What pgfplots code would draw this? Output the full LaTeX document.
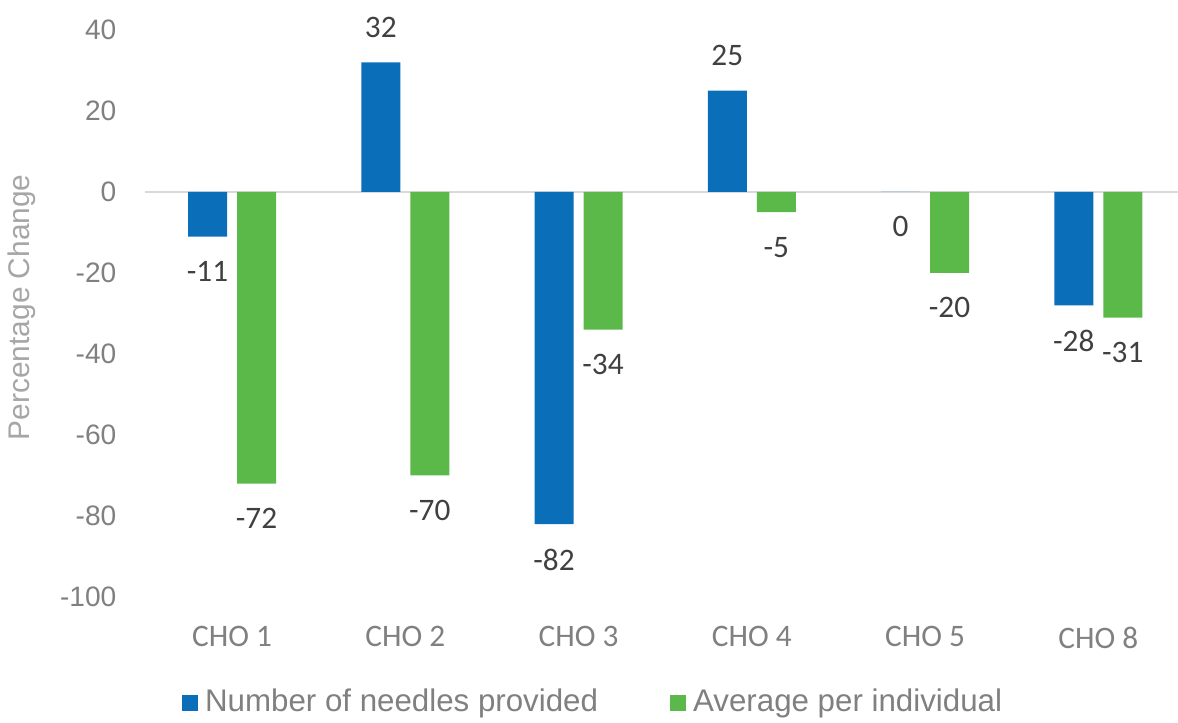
\documentclass[border=0pt]{standalone}
\usepackage{pgfplots}
\pgfplotsset{compat=1.18}
\usepackage{fontspec}
\setmainfont{Liberation Sans}
\newfontfamily\calibri{Carlito}
\definecolor{barblue}{RGB}{11,110,184}
\definecolor{bargreen}{RGB}{91,185,74}
\definecolor{tickgray}{RGB}{128,128,128}
\definecolor{labelgray}{RGB}{166,166,166}
\definecolor{valgray}{RGB}{64,64,64}
\definecolor{zerogray}{RGB}{217,217,217}

\begin{document}
\begin{tikzpicture}
% 1 px of the reference = 0.1 mm
\useasboundingbox (-14.54mm,-12.6mm) rectangle (103.26mm,59.7mm);
\begin{axis}[
  at={(0,0)}, anchor=south west,
  scale only axis,
  width=103.26mm, height=56.7mm,
  ybar=1mm, bar width=3.9mm,
  xmin=-0.5, xmax=5.46,
  ymin=-100, ymax=40,
  xtick={0,1,2,3,4,5},
  xticklabels={CHO 1,CHO 2,CHO 3,CHO 4,CHO 5,CHO 8},
  ytick={-100,-80,-60,-40,-20,0,20,40},
  yticklabels={-100,-80,-60,-40,-20,0,20,40},
  axis line style={draw=none},
  major tick length=0pt,
  clip=false,
  /pgf/number format/assume math mode=true,
  xticklabel style={anchor=north, inner sep=0pt, yshift=-2.9mm,
    font=\calibri\fontsize{8.9}{10.5}\selectfont, text=tickgray},
  yticklabel style={anchor=east, inner sep=0pt, xshift=-2.84mm,
    font=\fontsize{8}{9.6}\selectfont, text=tickgray},
  ylabel={Percentage Change},
  ylabel style={at={(axis description cs:-0.1195,0.511)}, anchor=center,
    font=\fontsize{8.5}{10}\selectfont, text=labelgray},
  extra y ticks={0},
  extra y tick labels={},
  extra y tick style={grid=major, major grid style={draw=zerogray, line width=0.28mm}},
  point meta=explicit symbolic,
  nodes near coords={\pgfplotspointmeta},
  visualization depends on={rawy \as \rawy},
  every node near coord/.append style={font=\calibri\fontsize{8.9}{10.5}\selectfont,
    text=valgray, inner xsep=0pt, inner ysep=2.4mm},
  every node near coord/.append code={%
    \ifdim\rawy pt>0pt \pgfkeysalso{anchor=south}\else\pgfkeysalso{anchor=north}\fi},
  legend style={at={(0.436,-0.187)}, anchor=center, draw=none, fill=none,
    legend columns=2, font=\fontsize{8.9}{10.5}\selectfont, text=tickgray,
    /tikz/every even column/.append style={column sep=6.5mm}},
  legend cell align=left,
  legend image code/.code={\fill[#1] (0mm,-0.8mm) rectangle (1.6mm,0.8mm);},
]
\addplot[fill=barblue, draw=none] coordinates {
  (0,-11) [-11] (1,32) [32] (2,-82) [-82] (3,25) [25] (4,0) [0] (5,-28) [-28]
};
\addplot[fill=bargreen, draw=none] coordinates {
  (0,-72) [-72] (1,-70) [-70] (2,-34) [-34] (3,-5) [-5] (4,-20) [-20] (5,-31) [-31]
};
\legend{Number of needles provided, Average per individual}
\end{axis}
\end{tikzpicture}
\end{document}
